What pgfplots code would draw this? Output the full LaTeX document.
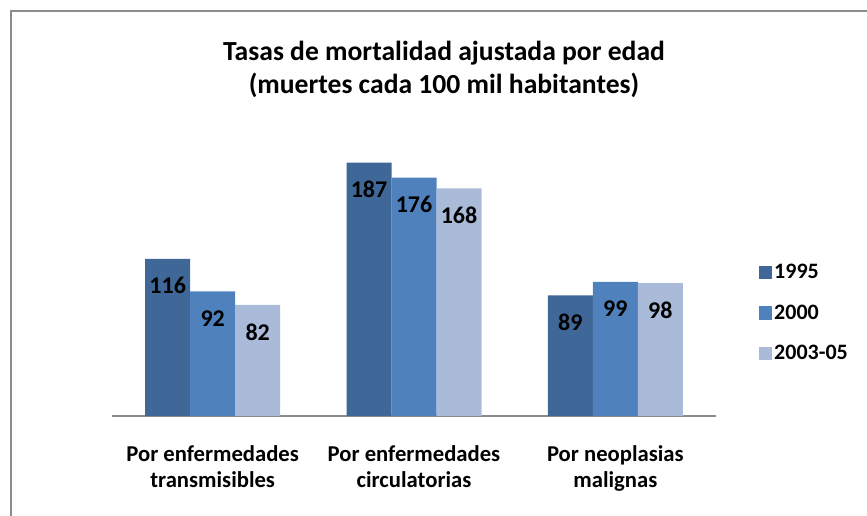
\documentclass[border=0pt]{standalone}
\usepackage{pgfplots}
\pgfplotsset{compat=1.18}
\usepackage{fontspec}
\setmainfont{Carlito}
\definecolor{cA}{HTML}{3F6797}
\definecolor{cB}{HTML}{4F81BD}
\definecolor{cC}{HTML}{AABBD9}
\definecolor{frame}{HTML}{8C8C8C}
\begin{document}
\begin{tikzpicture}
\useasboundingbox (0,0) rectangle (650.25pt,387pt);
\draw[frame, line width=1.5pt] (8.25pt,-2pt) -- (8.25pt,378.75pt) -- (652pt,378.75pt);
\node[font=\fontsize{20.7}{24.75}\selectfont\bfseries, align=center] at (333pt,335pt) {Tasas de mortalidad ajustada por edad\\(muertes cada 100 mil habitantes)};
\begin{axis}[
  at={(84pt,75pt)}, anchor=south west,
  scale only axis, width=453pt, height=203.25pt,
  ybar=0pt, bar width=33.75pt,
  xmin=-0.5, xmax=2.5, ymin=0, ymax=200,
  axis y line=none, axis x line*=bottom,
  x axis line style={draw=frame, line width=1.5pt, -},
  xtick=data, xtick style={draw=none},
  xticklabels={Por enfermedades\\transmisibles, Por enfermedades\\circulatorias, Por neoplasias\\malignas},
  xticklabel style={align=center, font=\fontsize{17}{19.5}\selectfont\bfseries, yshift=-14.5pt},
  /pgf/number format/assume math mode=true,
  nodes near coords,
  every node near coord/.append style={font=\fontsize{18}{20}\selectfont\bfseries, anchor=center, yshift=-20.25pt, black},
  legend style={draw=none, at={(1.07,0.38)}, anchor=west, font=\fontsize{16.5}{18}\selectfont\bfseries, row sep=14.25pt, inner sep=0pt},
  legend cell align=left,
  legend image code/.code={\fill[#1] (0pt,-4.9pt) rectangle (9.75pt,4.9pt);},
  clip=false,
]
\addplot[fill=cA, draw=none] coordinates {(0,116) (1,187) (2,89)};
\addplot[fill=cB, draw=none] coordinates {(0,92) (1,176) (2,99)};
\addplot[fill=cC, draw=none] coordinates {(0,82) (1,168) (2,98)};
\legend{\bfseries 1995,\bfseries 2000,\bfseries 2003-05}
\end{axis}
\end{tikzpicture}
\end{document}
